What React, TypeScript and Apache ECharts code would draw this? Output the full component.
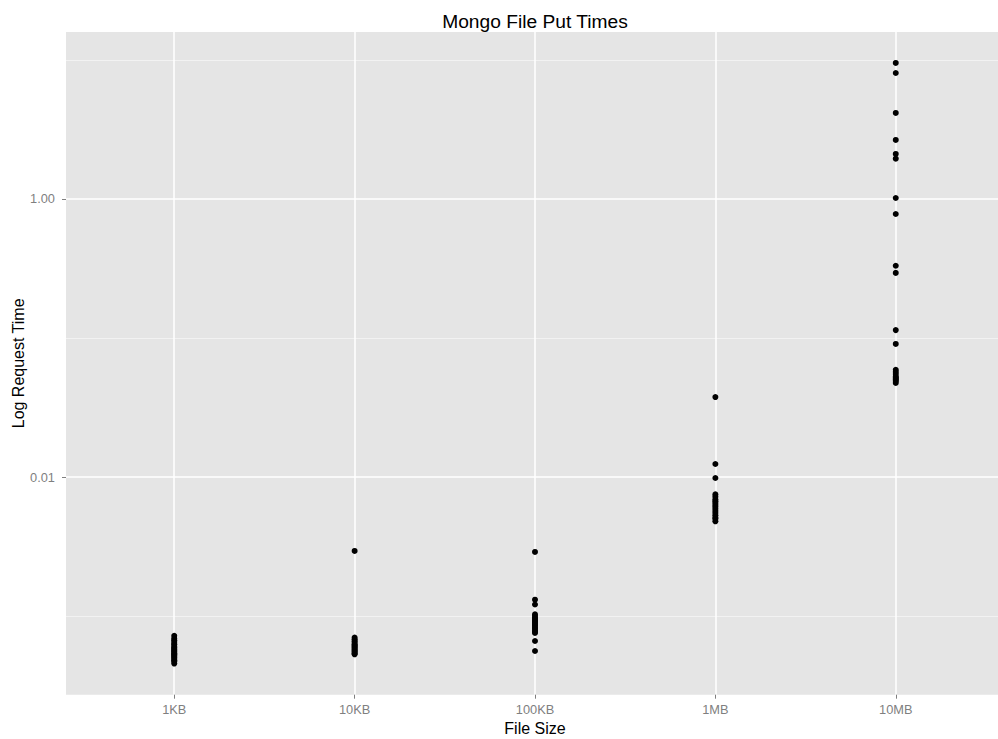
import React, { useEffect, useRef } from "react";
import * as echarts from "echarts";

const categories = ["1KB", "10KB", "100KB", "1MB", "10MB"];

// Request times (seconds)
const times1KB = [0.00072, 0.00069, 0.00067, 0.00065, 0.00063, 0.00062, 0.0006, 0.00059, 0.00058, 0.00057, 0.00056, 0.00055, 0.00054, 0.00053, 0.00052, 0.00051, 0.0005, 0.00049, 0.00048, 0.00047, 0.000455];
const times10KB = [0.00294, 0.0007, 0.00068, 0.00066, 0.00065, 0.00063, 0.00062, 0.00061, 0.0006, 0.00059, 0.00058, 0.00057, 0.00056, 0.00055, 0.00054, 0.00053];
const times100KB = [0.00289, 0.00131, 0.00121, 0.00103, 0.001, 0.00097, 0.00095, 0.00093, 0.00091, 0.00089, 0.00087, 0.00085, 0.00083, 0.00081, 0.00079, 0.00077, 0.000755, 0.000661, 0.00056];
const times1MB = [0.0376, 0.0124, 0.00984, 0.0075, 0.0072, 0.0069, 0.0067, 0.0065, 0.0063, 0.0061, 0.0059, 0.0057, 0.0055, 0.0053, 0.0051, 0.005, 0.0048];
const times10MB = [9.52, 8.06, 4.16, 2.66, 2.11, 1.95, 1.017, 0.78, 0.331, 0.294, 0.114, 0.0906, 0.059, 0.057, 0.055, 0.053, 0.052, 0.051, 0.05, 0.049, 0.0475];

const groups = [times1KB, times10KB, times100KB, times1MB, times10MB];

const xTickValues = [0, 1, 2, 3, 4];
const yTickValues = [0.01, 1];
const yTickLabels = ["0.01", "1.00"];

const FONT = "'Liberation Sans', Arial, Helvetica, sans-serif";
const NONE = "rgba(0,0,0,0)";
const MAJOR = "#FFFFFF";
const MINOR = "#F2F2F2";

export default function App() {
  const ref = useRef<HTMLDivElement>(null);
  useEffect(() => {
    document.body.style.margin = "0";
    const chart = echarts.init(ref.current!, null, { renderer: "svg" });
    const data: number[][] = [];
    groups.forEach((g, i) => g.forEach((v) => data.push([i, v])));
    const yRange = { min: 2.716e-4, max: 15.9 };
    chart.setOption({
      animation: false,
      textStyle: { fontFamily: FONT },
      title: {
        text: "Mongo File Put Times",
        left: 530,
        textAlign: "center",
        top: 7,
        textStyle: { fontFamily: FONT, fontSize: 19.2, fontWeight: "normal", color: "#000" },
      },
      grid: {
        left: 66,
        right: 0,
        top: 32,
        bottom: 44.3,
        show: true,
        backgroundColor: "#E5E5E5",
        borderWidth: 0,
        containLabel: false,
        outerBoundsMode: "none",
      },
      xAxis: {
        type: "value",
        min: -0.6,
        max: 4.6,
        splitNumber: 5,
        name: "File Size",
        nameLocation: "middle",
        nameGap: 24,
        nameTextStyle: { fontFamily: FONT, fontSize: 16, color: "#000" },
        axisLine: { show: false, onZero: false },
        axisTick: {
          show: true,
          length: 4,
          customValues: xTickValues,
          lineStyle: { color: "#7F7F7F", width: 1 },
        },
        axisLabel: {
          margin: 8,
          color: "#7F7F7F",
          fontFamily: FONT,
          fontSize: 12.8,
          formatter: (v: number) => {
            const r = Math.round(v);
            return Math.abs(v - r) < 1e-6 && r >= 0 && r < categories.length ? categories[r] : "";
          },
        },
        splitLine: {
          show: true,
          lineStyle: { color: MAJOR, width: 1.5 },
        },
      },
      yAxis: [
        {
          type: "log",
          logBase: 10,
          ...yRange,
          name: "Log Request Time",
          nameLocation: "middle",
          nameGap: 40,
          nameMoveOverlap: false,
          nameTextStyle: { fontFamily: FONT, fontSize: 16, color: "#000" },
          axisLine: { show: false, onZero: false },
          axisTick: {
            show: true,
            length: 4,
            customValues: yTickValues,
            lineStyle: { color: "#7F7F7F", width: 1 },
          },
          axisLabel: {
            customValues: yTickValues,
            margin: 11,
            color: "#7F7F7F",
            fontFamily: FONT,
            fontSize: 12.8,
            formatter: (v: number) => {
              const idx = yTickValues.findIndex((t) => Math.abs(Math.log10(v) - Math.log10(t)) < 1e-6);
              return idx >= 0 ? yTickLabels[idx] : "";
            },
          },
          splitLine: {
            show: true,
            lineStyle: { color: MAJOR, width: 1.5 },
          },
        },
        {
          type: "log",
          logBase: 10,
          ...yRange,
          position: "left",
          axisLine: { show: false, onZero: false },
          axisTick: { show: false },
          axisLabel: { show: false },
          splitLine: {
            show: true,
            lineStyle: { color: [NONE, MINOR, NONE, MINOR, NONE, MINOR, NONE], width: 1 },
          },
        },
      ],
      series: [
        {
          type: "scatter",
          yAxisIndex: 0,
          data,
          symbol: "circle",
          symbolSize: 6,
          itemStyle: { color: "#000000", opacity: 1 },
          silent: true,
        },
      ],
    });
    return () => chart.dispose();
  }, []);
  return (
    <div style={{ width: "998px", height: "739px", overflow: "hidden", position: "relative" }}>
      <div ref={ref} style={{ width: "1004px", height: "739px" }} />
    </div>
  );
}
